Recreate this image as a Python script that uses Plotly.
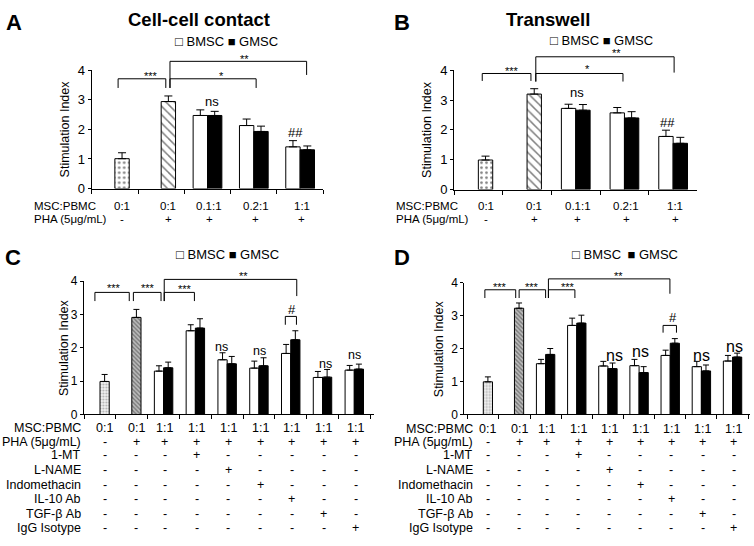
import plotly.graph_objects as go

W, H = 754, 546
FONT = "Liberation Sans, Arial, sans-serif"

# ---------------- data ----------------
# Panel A - Cell-cell contact
A_ratio = ["0:1", "0:1", "0.1:1", "0.2:1", "1:1"]
A_pha = ["-", "+", "+", "+", "+"]
A_ctrl = [1.01, 2.94, None, None, None]
A_ctrl_err = [0.20, 0.19, 0, 0, 0]
A_bmsc = [None, None, 2.47, 2.13, 1.41]
A_bmsc_err = [0, 0, 0.19, 0.22, 0.21]
A_gmsc = [None, None, 2.47, 1.93, 1.31]
A_gmsc_err = [0, 0, 0.14, 0.18, 0.13]

# Panel B - Transwell
B_ratio = ["0:1", "0:1", "0.1:1", "0.2:1", "1:1"]
B_pha = ["-", "+", "+", "+", "+"]
B_ctrl = [0.99, 3.20, None, None, None]
B_ctrl_err = [0.13, 0.18, 0, 0, 0]
B_bmsc = [None, None, 2.72, 2.57, 1.78]
B_bmsc_err = [0, 0, 0.14, 0.18, 0.21]
B_gmsc = [None, None, 2.66, 2.40, 1.55]
B_gmsc_err = [0, 0, 0.19, 0.21, 0.20]

# Panels C / D - condition table
CD_row_labels = ["MSC:PBMC", "PHA (5μg/mL)", "1-MT", "L-NAME", "Indomethacin",
                 "IL-10 Ab", "TGF-β Ab", "IgG Isotype"]
CD_ratio = ["0:1", "0:1", "1:1", "1:1", "1:1", "1:1", "1:1", "1:1", "1:1"]
CD_pha = ["-", "+", "+", "+", "+", "+", "+", "+", "+"]
CD_1mt = ["-", "-", "-", "+", "-", "-", "-", "-", "-"]
CD_lname = ["-", "-", "-", "-", "+", "-", "-", "-", "-"]
CD_indo = ["-", "-", "-", "-", "-", "+", "-", "-", "-"]
CD_il10 = ["-", "-", "-", "-", "-", "-", "+", "-", "-"]
CD_tgfb = ["-", "-", "-", "-", "-", "-", "-", "+", "-"]
CD_igg = ["-", "-", "-", "-", "-", "-", "-", "-", "+"]

# Panel C - cell-cell contact with inhibitors
C_ctrl = [0.99, 2.91, None, None, None, None, None, None, None]
C_ctrl_err = [0.21, 0.24, 0, 0, 0, 0, 0, 0, 0]
C_bmsc = [None, None, 1.30, 2.51, 1.64, 1.39, 1.83, 1.11, 1.33]
C_bmsc_err = [0, 0, 0.16, 0.18, 0.21, 0.21, 0.27, 0.18, 0.14]
C_gmsc = [None, None, 1.40, 2.59, 1.52, 1.46, 2.24, 1.12, 1.36]
C_gmsc_err = [0, 0, 0.17, 0.28, 0.22, 0.24, 0.27, 0.23, 0.15]

# Panel D - transwell with inhibitors
D_ctrl = [0.99, 3.22, None, None, None, None, None, None, None]
D_ctrl_err = [0.15, 0.16, 0, 0, 0, 0, 0, 0, 0]
D_bmsc = [None, None, 1.54, 2.70, 1.47, 1.48, 1.79, 1.45, 1.62]
D_bmsc_err = [0, 0, 0.13, 0.22, 0.14, 0.19, 0.16, 0.16, 0.17]
D_gmsc = [None, None, 1.82, 2.77, 1.39, 1.27, 2.16, 1.32, 1.74]
D_gmsc_err = [0, 0, 0.18, 0.24, 0.17, 0.18, 0.14, 0.18, 0.12]


# ---------------- helpers ----------------
def xp(px):
    return px / W


def yp(py):
    return 1 - py / H


fig = go.Figure()
layout_axes = {}

panels = [
    dict(name="A", xdom=(91.7, 323.3), ydom=(65, 186.7), xr=[-0.5, 4.5], w=0.31,
         ctrl=A_ctrl, ctrl_err=A_ctrl_err, bmsc=A_bmsc, bmsc_err=A_bmsc_err,
         gmsc=A_gmsc, gmsc_err=A_gmsc_err, cap=4, small=False,
         title="Cell-cell contact", title_pos=(199, 12.7), letter_pos=(14, 15.8),
         legend_pos=(226, 35), ytitle_x=65,
         rows=[A_ratio, A_pha], row_labels=["MSC:PBMC", "PHA (5μg/mL)"],
         row_y=[204.3, 217.7], label_x=32.3, label_anchor="left", tfont=11.5,
         brackets=[(0.07, 1.10, 3.71, 3.40, 3.40, "***", 0.78, 3.92),
                   (1.19, 3.05, 3.71, 3.40, 3.40, "*", 2.31, 3.92),
                   (1.19, 4.14, 4.30, 3.40, 3.84, "**", 2.79, 4.48)],
         marks=[("ns", 2.10, 2.95, 13), ("##", 3.91, 1.90, 13)]),
    dict(name="B", xdom=(454, 697), ydom=(65, 187.7), xr=[-0.5, 4.49], w=0.295,
         ctrl=B_ctrl, ctrl_err=B_ctrl_err, bmsc=B_bmsc, bmsc_err=B_bmsc_err,
         gmsc=B_gmsc, gmsc_err=B_gmsc_err, cap=4, small=False,
         title="Transwell", title_pos=(547.8, 12.7), letter_pos=(402, 15.8),
         legend_pos=(601, 34.3), ytitle_x=427,
         rows=[B_ratio, B_pha], row_labels=["MSC:PBMC", "PHA (5μg/mL)"],
         row_y=[204.3, 217.7], label_x=394.3, label_anchor="left", tfont=11.5,
         brackets=[(0.08, 1.08, 3.89, 3.64, 3.64, "***", 0.69, 4.08),
                   (1.18, 2.97, 3.89, 3.62, 3.62, "*", 2.25, 4.14),
                   (1.18, 4.02, 4.45, 3.62, 3.92, "**", 2.84, 4.67)],
         marks=[("ns", 2.02, 3.24, 13), ("##", 3.89, 2.26, 13)]),
    dict(name="C", xdom=(83.8, 374), ydom=(281.8, 419), xr=[-0.51, 8.62], w=0.29,
         ctrl=C_ctrl, ctrl_err=C_ctrl_err, bmsc=C_bmsc, bmsc_err=C_bmsc_err,
         gmsc=C_gmsc, gmsc_err=C_gmsc_err, cap=3, small=True,
         title=None, title_pos=None, letter_pos=(13.3, 257.5),
         legend_pos=(227, 255), ytitle_x=63.3,
         rows=[CD_ratio, CD_pha, CD_1mt, CD_lname, CD_indo, CD_il10, CD_tgfb, CD_igg],
         row_labels=CD_row_labels,
         row_y=[433, 447, 461, 476, 491, 505.5, 521, 536],
         label_x=83.3, label_anchor="right", tfont=12.5,
         brackets=[(-0.16, 0.92, 3.66, 3.40, 3.40, "***", 0.45, 3.88),
                   (1.05, 1.92, 3.66, 3.40, 3.40, "***", 1.50, 3.88),
                   (2.02, 2.97, 3.66, 3.40, 3.40, "***", 2.67, 3.84),
                   (2.02, 6.19, 4.05, 3.40, 3.55, "**", 4.50, 4.23),
                   (5.83, 6.18, 2.94, 2.69, 2.69, "#", 6.03, 3.16)],
         marks=[("ns", 3.83, 2.01, 12.5), ("ns", 5.03, 1.90, 12.5),
                ("ns", 7.10, 1.52, 12.5), ("ns", 8.00, 1.77, 12.5)]),
    dict(name="D", xdom=(464.3, 750.3), ydom=(283.3, 419), xr=[-0.61, 8.57], w=0.295,
         ctrl=D_ctrl, ctrl_err=D_ctrl_err, bmsc=D_bmsc, bmsc_err=D_bmsc_err,
         gmsc=D_gmsc, gmsc_err=D_gmsc_err, cap=3, small=True,
         title=None, title_pos=None, letter_pos=(402, 257.5),
         legend_pos=(624.5, 255), ytitle_x=438.7,
         rows=[CD_ratio, CD_pha, CD_1mt, CD_lname, CD_indo, CD_il10, CD_tgfb, CD_igg],
         row_labels=CD_row_labels,
         row_y=[433.5, 447, 461, 476, 491, 505.5, 521, 536],
         label_x=475.3, label_anchor="right", tfont=12.5,
         brackets=[(0.05, 1.04, 3.78, 3.53, 3.53, "***", 0.54, 3.97),
                   (1.15, 2.00, 3.78, 3.53, 3.53, "***", 1.57, 3.97),
                   (2.09, 2.94, 3.78, 3.53, 3.53, "***", 2.73, 3.95),
                   (2.09, 5.99, 4.11, 3.53, 3.66, "**", 4.33, 4.28),
                   (5.77, 6.20, 2.70, 2.48, 2.48, "#", 6.10, 2.94)],
         marks=[("ns", 4.20, 1.79, 16), ("ns", 5.03, 1.92, 16),
                ("ns", 7.00, 1.79, 16), ("ns", 8.05, 2.06, 16)]),
]

for k, p in enumerate(panels, start=1):
    sfx = "" if k == 1 else str(k)
    xa, ya = "x" + sfx, "y" + sfx
    n = len(p["ctrl"])
    xs = list(range(n))
    w = p["w"]
    yb, yt = yp(p["ydom"][1]), yp(p["ydom"][0])

    def Y(v, yb=yb, yt=yt):
        return yb + v / 4.0 * (yt - yb)

    # control bars (patterned single bars, drawn in the right-hand slot)
    if p["small"]:
        pat = dict(shape=[".", "\\"] + [""] * (n - 2),
                   fgcolor=["#666666", "#333333"] + ["black"] * (n - 2),
                   bgcolor=["#f2f2f2", "#bbbbbb"] + ["white"] * (n - 2),
                   size=[3, 3] + [6] * (n - 2), solidity=[0.35, 0.45] + [0.3] * (n - 2))
    else:
        pat = dict(shape=[".", "\\"] + [""] * (n - 2),
                   fgcolor="black", bgcolor="white",
                   size=[5, 6] + [6] * (n - 2), solidity=[0.22, 0.25] + [0.3] * (n - 2))
    err_common = dict(type="data", symmetric=False, color="black", thickness=1,
                      width=p["cap"])
    fig.add_trace(go.Bar(
        x=xs, y=p["ctrl"], width=w, offset=0, xaxis=xa, yaxis=ya, showlegend=False,
        name="Control",
        marker=dict(color="white", line=dict(color="black", width=1), pattern=pat),
        error_y=dict(array=p["ctrl_err"], arrayminus=[0] * n, **err_common)))
    fig.add_trace(go.Bar(
        x=xs, y=p["bmsc"], width=w, offset=-w, xaxis=xa, yaxis=ya, showlegend=False,
        name="BMSC", marker=dict(color="white", line=dict(color="black", width=1)),
        error_y=dict(array=p["bmsc_err"], arrayminus=[0] * n, **err_common)))
    fig.add_trace(go.Bar(
        x=xs, y=p["gmsc"], width=w, offset=0, xaxis=xa, yaxis=ya, showlegend=False,
        name="GMSC", marker=dict(color="black", line=dict(color="black", width=1)),
        error_y=dict(array=p["gmsc_err"], arrayminus=[0] * n, **err_common)))

    layout_axes["xaxis" + sfx] = dict(
        domain=[xp(p["xdom"][0]), xp(p["xdom"][1])], range=p["xr"], anchor=ya,
        showgrid=False, zeroline=False, showline=True, linecolor="black", linewidth=1,
        ticks="outside", ticklen=4, tickcolor="black",
        tickvals=[i - 0.5 for i in range(n + 1)], showticklabels=False, fixedrange=True)
    layout_axes["yaxis" + sfx] = dict(
        domain=[yb, yt], range=[0, 4], anchor=xa,
        showgrid=False, zeroline=False, showline=True, linecolor="black", linewidth=1,
        ticks="outside", ticklen=3, tickcolor="black", tickvals=[0, 1, 2, 3, 4],
        tickfont=dict(size=13 if not p["small"] else 12, color="black"), fixedrange=True)

    # y-axis title
    fig.add_annotation(text="Stimulation Index", textangle=-90, xref="paper", yref="paper",
                       x=xp(p["ytitle_x"]), y=(yb + yt) / 2, showarrow=False,
                       xanchor="center", yanchor="middle", font=dict(size=12.5))

    # panel letter / title / legend key
    fig.add_annotation(text="<b>%s</b>" % p["name"], xref="paper", yref="paper",
                       x=xp(p["letter_pos"][0]), y=yp(p["letter_pos"][1]), showarrow=False,
                       xanchor="center", yanchor="middle", font=dict(size=22))
    if p["title"]:
        fig.add_annotation(text="<b>%s</b>" % p["title"], xref="paper", yref="paper",
                           x=xp(p["title_pos"][0]), y=yp(p["title_pos"][1]), showarrow=False,
                           xanchor="center", yanchor="middle", font=dict(size=18.5))
    gap = "\u2002" if p["name"] == "D" else " "
    fig.add_annotation(text="□ BMSC" + gap + "■ GMSC", xref="paper", yref="paper",
                       x=xp(p["legend_pos"][0]), y=yp(p["legend_pos"][1]), showarrow=False,
                       xanchor="center", yanchor="middle", font=dict(size=13))

    # condition table below the x axis
    for r, (lab, vals, ry) in enumerate(zip(p["row_labels"], p["rows"], p["row_y"])):
        fig.add_annotation(text=lab, xref="paper", yref="paper", x=xp(p["label_x"]),
                           y=yp(ry), showarrow=False, xanchor=p["label_anchor"],
                           yanchor="middle", font=dict(size=p["tfont"]))
        for i, v in enumerate(vals):
            xpos = i + w / 2 if p["ctrl"][i] is not None else i + 0.04
            fig.add_annotation(text=v, xref=xa, yref="paper", x=xpos, y=yp(ry),
                               showarrow=False, xanchor="center", yanchor="middle",
                               font=dict(size=p["tfont"]))

    # significance brackets and marks
    for (x0, x1, ytop, yl0, yl1, lab, lx, ly) in p["brackets"]:
        fig.add_shape(type="path", xref=xa, yref="paper",
                      path="M%.3f,%.5f L%.3f,%.5f L%.3f,%.5f L%.3f,%.5f" % (
                          x0, Y(yl0), x0, Y(ytop), x1, Y(ytop), x1, Y(yl1)),
                      line=dict(color="black", width=1))
        is_star = lab.startswith("*")
        fig.add_annotation(text=lab, xref=xa, yref="paper", x=lx, y=Y(ly),
                           showarrow=False, xanchor="center", yanchor="middle",
                           yshift=-3 if is_star else 0,
                           font=dict(size=11 if is_star else 13))
    for (lab, lx, ly, fs) in p["marks"]:
        fig.add_annotation(text=lab, xref=xa, yref="paper", x=lx, y=Y(ly),
                           showarrow=False, xanchor="center", yanchor="middle",
                           font=dict(size=fs))

fig.update_layout(
    width=W, height=H, margin=dict(l=0, r=0, t=0, b=0),
    paper_bgcolor="white", plot_bgcolor="white", barmode="overlay",
    font=dict(family=FONT, color="black", size=12), showlegend=False,
    **layout_axes)

fig.write_html("out.html", config={"displayModeBar": False},
               post_script="document.body.style.margin='0';"
                           "document.body.style.overflow='hidden';")
